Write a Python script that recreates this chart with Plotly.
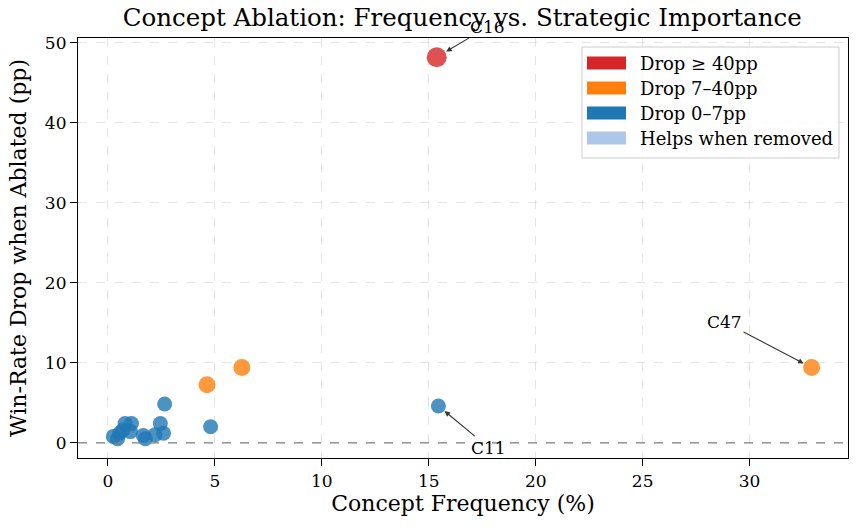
import plotly.graph_objects as go

# Data
red_x = [15.37]; red_y = [48.2]
orange_x = [4.63, 6.26, 32.9]; orange_y = [7.25, 9.4, 9.4]
blue_x = [0.25, 0.45, 0.55, 0.7, 0.8, 1.1, 1.05, 1.65, 1.75, 2.2, 2.45, 2.6, 2.65, 4.8, 15.45]
blue_y = [0.8, 0.5, 1.2, 1.6, 2.4, 2.4, 1.4, 0.9, 0.5, 1.0, 2.4, 1.2, 4.85, 2.0, 4.6]

FONT = "DejaVu Serif"
C_RED, C_ORG, C_BLU, C_LB = "#d62728", "#ff7f0e", "#1f77b4", "#aec7e8"

fig = go.Figure()
fig.add_trace(go.Scatter(x=blue_x, y=blue_y, mode="markers",
                         marker=dict(color=C_BLU, size=15, opacity=0.8, line=dict(width=0)), showlegend=False))
fig.add_trace(go.Scatter(x=orange_x, y=orange_y, mode="markers",
                         marker=dict(color=C_ORG, size=17, opacity=0.8, line=dict(width=0)), showlegend=False))
fig.add_trace(go.Scatter(x=red_x, y=red_y, mode="markers",
                         marker=dict(color=C_RED, size=20, opacity=0.8, line=dict(width=0)), showlegend=False))

fig.add_hline(y=0, line=dict(color="gray", dash="dash", width=1.3))

ann = [
    ("C16", red_x[0], red_y[0], 17.76, 52.0, 11),
    ("C11", blue_x[-1], blue_y[-1], 17.8, -0.6, 8),
    ("C47", orange_x[2], orange_y[2], 28.83, 15.1, 9),
]
for t, x, y, axx, ayy, so in ann:
    fig.add_annotation(x=x, y=y, ax=axx, ay=ayy, axref="x", ayref="y", xref="x", yref="y",
                       text=t, showarrow=True, arrowhead=2, arrowsize=1, arrowwidth=1.1,
                       arrowcolor="#333333", standoff=so, font=dict(family=FONT, size=17, color="black"))

# Manual legend
labels = ["Drop \u2265 40pp", "Drop 7\u201340pp", "Drop 0\u20137pp", "Helps when removed"]
colors = [C_RED, C_ORG, C_BLU, C_LB]
W, H = 856, 532
ml, mr, mt, mb = 78, 8, 38, 74
pw, ph = W - ml - mr, H - mt - mb
def px(x): return (x - ml) / pw
def py(y): return 1 - (y - mt) / ph
fig.add_shape(type="rect", xref="paper", yref="paper", x0=px(582), x1=px(839), y0=py(158), y1=py(47),
              line=dict(color="#cccccc", width=1), fillcolor="rgba(255,255,255,0.8)", layer="above")
for i, (lab, col) in enumerate(zip(labels, colors)):
    yc = 63 + i * 25
    fig.add_shape(type="rect", xref="paper", yref="paper", x0=px(587), x1=px(626), y0=py(yc + 6.5), y1=py(yc - 6.5),
                  line=dict(width=0), fillcolor=col, layer="above")
    fig.add_annotation(xref="paper", yref="paper", x=px(638), y=py(yc), text=lab, showarrow=False,
                       xanchor="left", yanchor="middle", font=dict(family=FONT, size=18, color="black"))

axis_common = dict(showline=True, linecolor="black", linewidth=1.2, mirror=True, ticks="outside",
                   ticklen=7, tickcolor="black", showgrid=True, gridcolor="rgba(0,0,0,0.1)",
                   griddash="dash", gridwidth=1, zeroline=False,
                   tickfont=dict(family=FONT, size=17, color="black"))
fig.update_xaxes(range=[-1.4, 34.6], dtick=5, title=dict(text="Concept Frequency (%)",
                 font=dict(family=FONT, size=22, color="black"), standoff=6), **axis_common)
fig.update_yaxes(range=[-1.9, 50.6], dtick=10, title=dict(text="Win-Rate Drop when Ablated (pp)",
                 font=dict(family=FONT, size=22, color="black"), standoff=12), **axis_common)

fig.update_layout(width=W, height=H, margin=dict(l=ml, r=mr, t=mt, b=mb),
                  plot_bgcolor="white", paper_bgcolor="white",
                  title=dict(text="Concept Ablation: Frequency vs. Strategic Importance", x=0.54, xanchor="center",
                             y=0.968, yanchor="middle", font=dict(family=FONT, size=24.5, color="black")))
fig.write_html("out.html")
